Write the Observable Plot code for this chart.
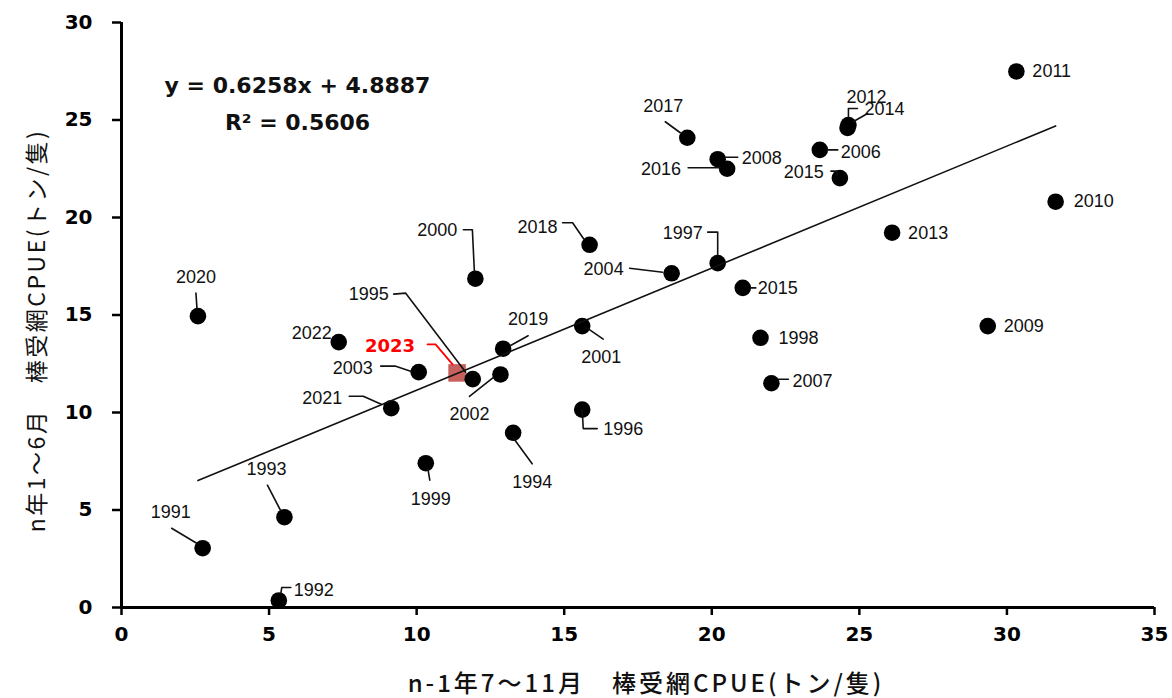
<!DOCTYPE html>
<html>
<head>
<meta charset="utf-8">
<script src="https://cdn.jsdelivr.net/npm/d3@7"></script>
<script src="https://cdn.jsdelivr.net/npm/@observablehq/plot@0.6"></script>
<style>
  html, body { margin: 0; padding: 0; background: #fff; }
  #chart svg { display: block; }
</style>
</head>
<body>
<div id="chart"></div>
<script>
// ---- data ----
const years = ["1991","1992","1993","1994","1995","1996","1997","1998","1999","2000",
  "2001","2002","2003","2004","2006","2007","2008","2009","2010","2011",
  "2012","2013","2014","2015","2015","2016","2017","2018","2019","2020",
  "2021","2022","2023"];
const xValues = [2.75, 5.33, 5.52, 13.27, 11.90, 15.61, 20.20, 21.65, 10.31, 11.99,
  15.61, 12.84, 10.07, 18.64, 23.66, 22.02, 20.20, 29.35, 31.65, 30.32,
  24.63, 26.11, 24.60, 24.34, 21.05, 20.52, 19.17, 15.86, 12.93, 2.59,
  9.14, 7.36, 11.37];
const yValues = [3.04, 0.36, 4.63, 8.96, 11.71, 10.15, 17.66, 13.83, 7.40, 16.86,
  14.43, 11.95, 12.07, 17.14, 23.47, 11.50, 22.99, 14.43, 20.81, 27.49,
  24.74, 19.22, 24.59, 22.02, 16.39, 22.50, 24.09, 18.60, 13.27, 14.94,
  10.22, 13.61, 12.03];
const highlightYear = "2023";
const slope = 0.6258, intercept = 4.8887, r2 = 0.5606;
const xTicks = [0, 5, 10, 15, 20, 25, 30, 35];
const yTicks = [0, 5, 10, 15, 20, 25, 30];
const xTitle = "n-1年7～11月\u3000棒受網CPUE(トン/隻)";
const yTitle = "n年1～6月\u3000棒受網CPUE(トン/隻)";
const eqLine1 = `y = ${slope}x + ${intercept}`;
const eqLine2 = `R² = ${r2}`;

// ---- label layout (pixel offsets from each point), same order as data ----
const labelAnchor = ["middle","start","middle","middle","end","start","end","start","middle","end",
  "middle","middle","end","end","start","start","start","start","start","start",
  "start","start","start","end","start","end","middle","end","middle","middle",
  "end","end","end"];
const labelOffset = [[-32,-36],[15,-10],[-18,-48],[19,49],[-84,-85],[21,20],[-15,-30],[18,0],[5,36],[-18,-48],
  [19,31],[-31,40],[-46,-4],[-48,-4],[21,2],[21,-2],[24,-1],[16,0],[18,0],[16,0],
  [-2,-27.5],[16,1],[17,-18.5],[-16,-6],[15,0],[-46,0],[-24,-32],[-32,-18],[25,-30],[-2,-39],
  [-49,-10],[-7,-9],[-42,-26.5]];
const leaderPaths = [
  [[-31,-20],[-6,-5]],
  [[12,-13],[3,-13],[2,-7]],
  [[-17,-32],[-4,-7]],
  [[0,5],[19,31]],
  [[-79,-85],[-67,-86],[-7,-7]],
  [[0,0],[1,19],[15,19]],
  [[-10,-31],[0,-31],[0,-8]],
  null,
  [[2,5],[4,17]],
  [[-12,-49],[-3,-49],[-1,-7]],
  [[5,2],[21,13]],
  [[-31,22],[-7,3]],
  [[-38,-6],[-23,-6],[-8,-1]],
  [[-42,-5],[-9,-1]],
  [[7,0],[18,0]],
  [[7,-4],[17,-4]],
  [[20,-2],[8,-2]],
  null, null, null,
  [[9,-16.5],[0,-16.5],[0,-8]],
  null,
  [[20,-14.5],[6,-6.5]],
  [[-9,-7],[-3,-7],[-3,-3]],
  [[8,0],[13,0]],
  [[-39,-1],[-7,-1]],
  [[-22,-16],[-7,-5]],
  [[-27,-22],[-17,-22],[-6,-6]],
  [[25,-13],[7,-3]],
  [[-2,-23],[-1,-8]],
  [[-42,-12],[-28,-12],[-10,-4]],
  null,
  [[-29.5,-28.5],[-21.5,-28.5],[-4.5,-8.5]]
];

// ---- geometry ----
const W = 1172, H = 698;
const mL = 121, mR = 18, mT = 22, mB = 91;
const sx = d3.scaleLinear([0, 35], [mL, W - mR]);
const sy = d3.scaleLinear([0, 30], [H - mB, mT]);

const points = years.map((year, i) => ({year, x: xValues[i], y: yValues[i], i}));
const normal = points.filter(d => d.year !== highlightYear);
const highlight = points.filter(d => d.year === highlightYear);

const labels = points.map(d => {
  const [dx, dy] = labelOffset[d.i];
  return {...d, lx: sx.invert(sx(d.x) + dx), ly: sy.invert(sy(d.y) + dy), anchor: labelAnchor[d.i]};
});
const leaders = [];
points.forEach(d => {
  const path = leaderPaths[d.i];
  if (!path) return;
  path.forEach(([dx, dy]) => leaders.push({id: d.i, hl: d.year === highlightYear,
    x: sx.invert(sx(d.x) + dx), y: sy.invert(sy(d.y) + dy)}));
});

const xExt = d3.extent(xValues);
const trend = xExt.map(x => ({x, y: slope * x + intercept}));

const labelFont = "Liberation Sans, Arial, sans-serif";
const textMarks = ["start", "middle", "end"].map(a =>
  Plot.text(labels.filter(d => d.anchor === a && d.year !== highlightYear), {
    x: "lx", y: "ly", text: "year", textAnchor: a, fontSize: 18,
    fontFamily: labelFont, fill: "#111"
  })
);

const chart = Plot.plot({
  width: W, height: H,
  marginLeft: mL, marginRight: mR, marginTop: mT, marginBottom: mB,
  x: {domain: [0, 35], axis: null},
  y: {domain: [0, 30], axis: null},
  style: {background: "#fff"},
  marks: [
    Plot.dot(highlight, {x: "x", y: "y", symbol: "square", r: 9.9, fill: "#c0504d", fillOpacity: 0.9}),
    Plot.dot(normal, {x: "x", y: "y", r: 8.3, fill: "#000"}),
    Plot.line(trend, {x: "x", y: "y", stroke: "#111", strokeWidth: 1.6}),
    Plot.line(leaders.filter(d => !d.hl), {x: "x", y: "y", z: "id", stroke: "#111", strokeWidth: 1.6, curve: "linear"}),
    Plot.line(leaders.filter(d => d.hl), {x: "x", y: "y", z: "id", stroke: "#ff0000", strokeWidth: 1.8}),
    ...textMarks,
    Plot.text(labels.filter(d => d.year === highlightYear), {
      x: "lx", y: "ly", text: "year", textAnchor: "end", fontSize: 18,
      fontWeight: "bold", fontFamily: "DejaVu Sans, sans-serif", fill: "#ff0000"
    }),
    Plot.axisX(xTicks, {tickSize: 8, tickPadding: 11, fontSize: 20, fontWeight: "bold",
      fontFamily: "DejaVu Sans, sans-serif", color: "#000", strokeWidth: 2.5}),
    Plot.axisY(yTicks, {tickSize: 9, tickPadding: 20, fontSize: 20, fontWeight: "bold",
      fontFamily: "DejaVu Sans, sans-serif", color: "#000", strokeWidth: 2.5}),
    Plot.ruleY([0], {stroke: "#000", strokeWidth: 3}),
    Plot.ruleX([0], {stroke: "#000", strokeWidth: 3}),
    Plot.text([eqLine1], {frameAnchor: "top-left", dx: 176, dy: 63, textAnchor: "middle", lineAnchor: "middle",
      fontSize: 22, fontWeight: "bold", fontFamily: "DejaVu Sans, sans-serif", fill: "#111"}),
    Plot.text([eqLine2], {frameAnchor: "top-left", dx: 176, dy: 100, textAnchor: "middle", lineAnchor: "middle",
      fontSize: 22, fontWeight: "bold", fontFamily: "DejaVu Sans, sans-serif", fill: "#111"}),
    Plot.text([xTitle], {frameAnchor: "bottom", dx: 8, dy: 77, textAnchor: "middle", lineAnchor: "middle",
      fontSize: 24, fontWeight: 500, fontFamily: "Noto Sans CJK JP, sans-serif", fill: "#111"}),
    Plot.text([yTitle], {frameAnchor: "left", dx: -84, dy: 15.5, rotate: -90, textAnchor: "middle", lineAnchor: "middle",
      fontSize: 23, fontFamily: "Noto Sans CJK JP, sans-serif", fill: "#111"})
  ]
});
// widen the axis titles' letter spacing to match the reference font's metrics
d3.select(chart).selectAll("text").each(function() {
  const t = this.textContent;
  if (t === xTitle) d3.select(this).style("letter-spacing", "3px");
  if (t === yTitle) d3.select(this).style("letter-spacing", "2.5px");
});
document.getElementById("chart").appendChild(chart);
</script>
</body>
</html>
